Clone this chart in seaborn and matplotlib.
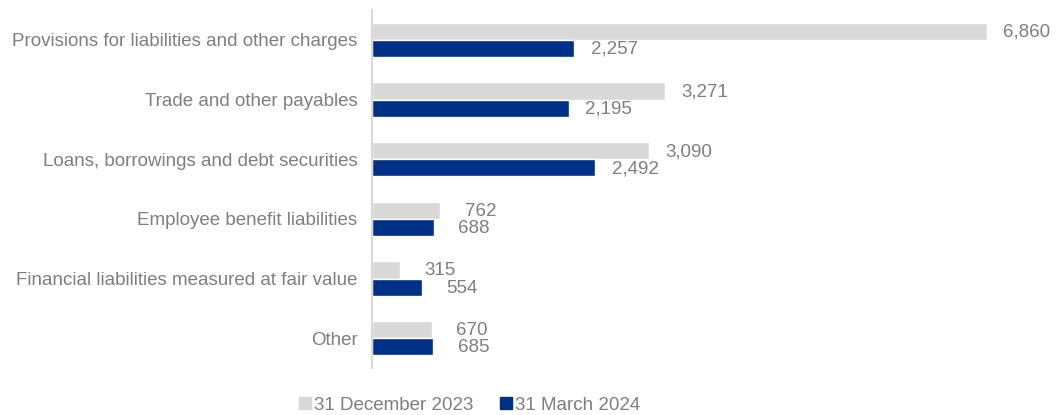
import matplotlib
matplotlib.use("Agg")
import matplotlib.pyplot as plt
from matplotlib.lines import Line2D
import seaborn as sns
import pandas as pd

categories = [
    "Provisions for liabilities and other charges",
    "Trade and other payables",
    "Loans, borrowings and debt securities",
    "Employee benefit liabilities",
    "Financial liabilities measured at fair value",
    "Other",
]
series_names = ["31 December 2023", "31 March 2024"]
dec_2023 = [6860, 3271, 3090, 762, 315, 670]
mar_2024 = [2257, 2195, 2492, 688, 554, 685]

colors = ["#D9D9D9", "#003087"]
text_color = "#7F7F7F"
font_size = 13.5

df = pd.DataFrame({
    "category": categories * 2,
    "period": [series_names[0]] * len(categories) + [series_names[1]] * len(categories),
    "value": dec_2023 + mar_2024,
})

sns.set_style("white")
plt.rcParams["font.family"] = ["Liberation Sans", "DejaVu Sans"]

fig = plt.figure(figsize=(10.61, 4.15), dpi=100)
ax = fig.add_axes([372 / 1061, 1 - 368 / 415, 1 - 372 / 1061, 358 / 415])

sns.barplot(
    data=df, y="category", x="value", hue="period",
    order=categories, hue_order=series_names,
    palette=colors, orient="h", width=0.58,
    edgecolor="white", linewidth=1.0, saturation=1, legend=False, ax=ax,
)

ax.set_xlim(0, 7690)
ax.set_ylim(len(categories) - 0.5, -0.5)
ax.set_xlabel("")
ax.set_ylabel("")
ax.set_xticks([])
ax.tick_params(axis="y", length=0, pad=10.5, labelsize=font_size, labelcolor=text_color)

for side in ["top", "right", "bottom"]:
    ax.spines[side].set_visible(False)
ax.spines["left"].set_color("#D9D9D9")
ax.spines["left"].set_linewidth(1.5)

# value labels beside each bar
for container in ax.containers:
    for patch in container:
        w = patch.get_width()
        y = patch.get_y() + patch.get_height() / 2
        ax.annotate(f"{w:,.0f}", xy=(w, y), xytext=(40, -1), textcoords="offset pixels",
                    ha="center", va="center", fontsize=font_size, color=text_color)

handles = [Line2D([0], [0], marker="s", linestyle="none", markersize=8,
                  markerfacecolor=c, markeredgecolor=c) for c in colors]
fig.legend(handles, series_names, loc="center", bbox_to_anchor=(468 / 1061, 1 - 405 / 415),
           ncol=2, frameon=False, fontsize=font_size, labelcolor=text_color,
           handletextpad=0.0, columnspacing=1.2, handlelength=1.0)

fig.savefig("out.png", dpi=100)
